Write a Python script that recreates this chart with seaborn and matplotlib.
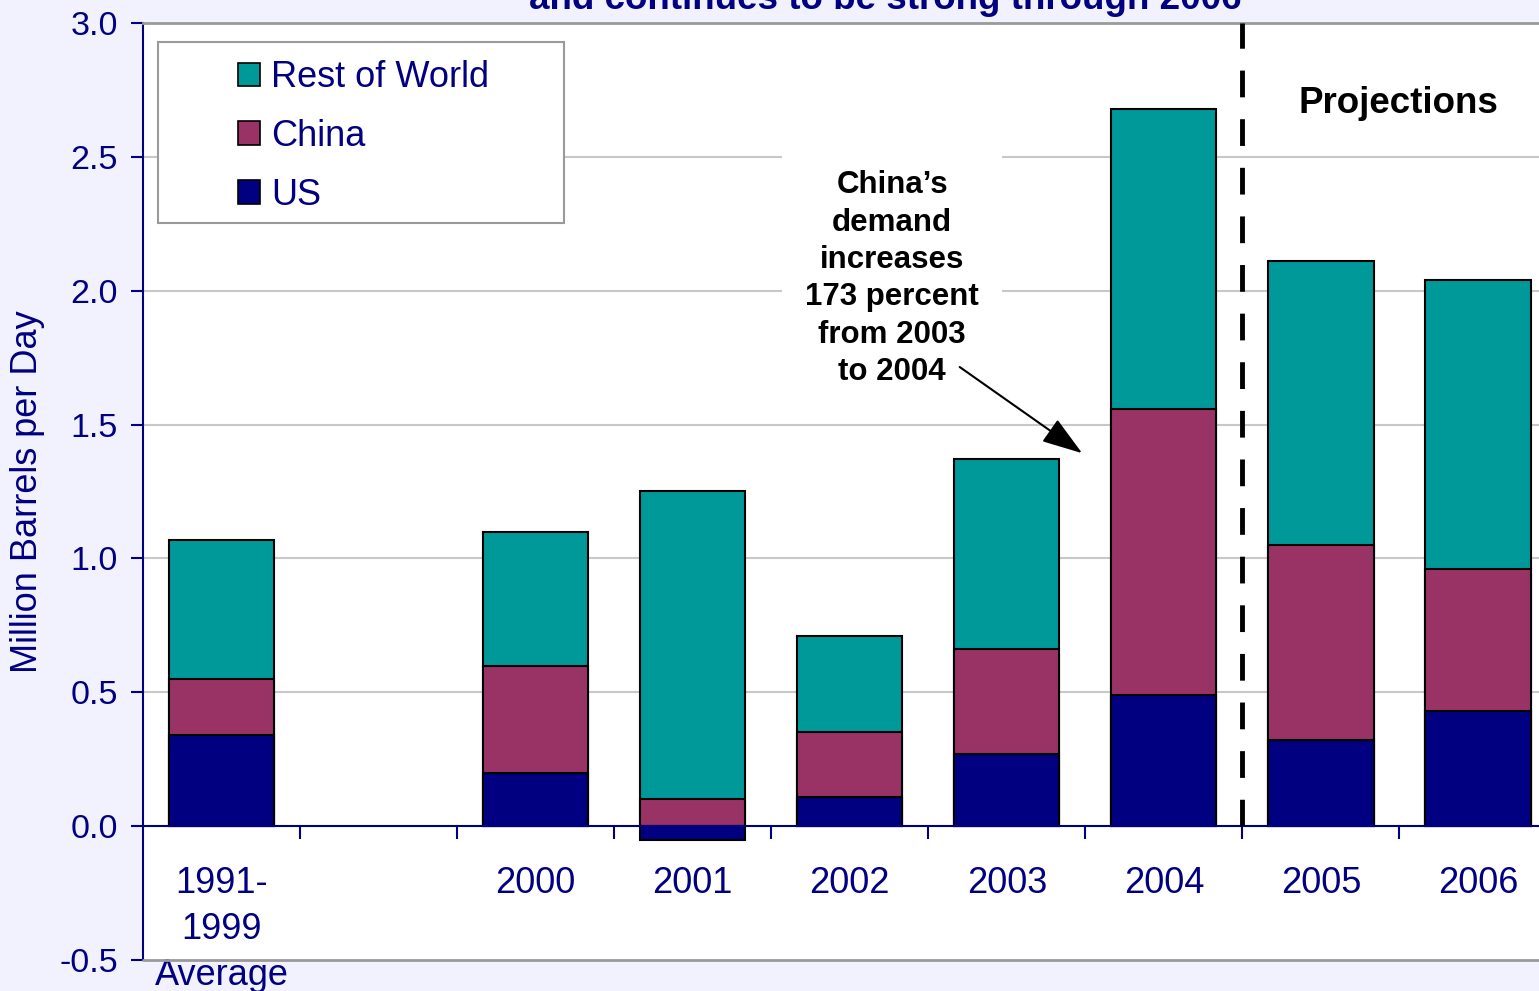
import numpy as np
import pandas as pd
import matplotlib
matplotlib.use("Agg")
import matplotlib.pyplot as plt
from matplotlib.patches import Patch, Rectangle
import seaborn as sns

# Categories (an empty spacer slot sits between the 1990s average and 2000)
categories = ["1991-\n1999\nAverage", " ", "2000", "2001", "2002", "2003", "2004", "2005", "2006"]
bar_categories = ["1991-\n1999\nAverage", "2000", "2001", "2002", "2003", "2004", "2005", "2006"]

# Demand growth components, million barrels per day
us_growth = [0.34, 0.20, -0.05, 0.11, 0.27, 0.49, 0.32, 0.43]
china_growth = [0.21, 0.40, 0.10, 0.24, 0.39, 1.07, 0.73, 0.53]
row_growth = [0.52, 0.50, 1.15, 0.36, 0.71, 1.12, 1.06, 1.08]

y_ticks = [-0.5, 0.0, 0.5, 1.0, 1.5, 2.0, 2.5, 3.0]

NAVY = "#000080"
TEAL = "#009999"
MAROON = "#993366"
BG = "#F2F2FF"
GRID = "#C8C8C8"
FRAME = "#9A9A9A"

sns.set_theme(style="white")
plt.rcParams["font.family"] = ["Liberation Sans", "DejaVu Sans"]

# Stack: China starts at the positive part of US, Rest of World on top of China
us = np.array(us_growth)
china_base = np.clip(us, 0, None)
china_top = china_base + np.array(china_growth)
row_top = china_top + np.array(row_growth)

df = pd.DataFrame({
    "category": bar_categories,
    "us": us,
    "china_top": china_top,
    "row_top": row_top,
})

fig = plt.figure(figsize=(15.39, 9.91), dpi=100, facecolor=BG)
ax = fig.add_axes([143 / 1539, 1 - 960 / 991, 1413.5 / 1539, 937 / 991])
ax.set_facecolor("white")

bar_kw = dict(order=categories, width=0.67, edgecolor="black", linewidth=1.5, ax=ax, zorder=3)
sns.barplot(data=df, x="category", y="row_top", color=TEAL, saturation=1, **bar_kw)
sns.barplot(data=df, x="category", y="china_top", color=MAROON, saturation=1, **bar_kw)
sns.barplot(data=df, x="category", y="us", color=NAVY, saturation=1, **bar_kw)

ax.set_xlim(-0.5, len(categories) - 0.5)
ax.set_ylim(-0.5, 3.0)
ax.set_xlabel("")
ax.set_ylabel("Million Barrels per Day", fontsize=26, color=NAVY, labelpad=10)

# Y axis
ax.set_yticks(y_ticks)
ax.set_yticklabels([f"{v:.1f}" for v in y_ticks], fontsize=24.5, color=NAVY)
ax.tick_params(axis="y", direction="out", length=9, width=1.5, color=NAVY, pad=9, left=True)

# X axis: tick marks between slots, labels at slot centres
ax.set_xticks(np.arange(0.5, len(categories) - 1, 1.0))
ax.set_xticklabels([])
ax.set_xticks(np.arange(len(categories)), labels=categories, minor=True)
ax.tick_params(axis="x", which="major", direction="out", length=9, width=1.5, color=NAVY, bottom=True)
ax.tick_params(axis="x", which="minor", length=0, pad=29, labelsize=26, labelcolor=NAVY)

# Grid lines
for v in [0.5, 1.0, 1.5, 2.0, 2.5]:
    ax.axhline(v, color=GRID, linewidth=1.5, zorder=1)

# Spines
ax.spines["bottom"].set_position(("data", 0))
ax.spines["bottom"].set_color(NAVY)
ax.spines["bottom"].set_linewidth(1.5)
ax.spines["bottom"].set_zorder(4)
ax.spines["left"].set_color(NAVY)
ax.spines["left"].set_linewidth(1.5)
ax.spines["top"].set_color(FRAME)
ax.spines["top"].set_linewidth(2)
ax.spines["right"].set_visible(False)
ax.axhline(-0.5, color=FRAME, linewidth=2, clip_on=False, zorder=4)

# Projection divider
ax.plot([6.5, 6.5], [0, 3.0], color="black", linewidth=3.5, linestyle=(0, (5.5, 4.5)), zorder=5)
ax.text(7.495, 2.70, "Projections", fontsize=26.5, fontweight="bold", color="black",
        ha="center", va="center", zorder=6)

# Callout
ax.text(4.27, 2.045, "China\u2019s\ndemand\nincreases\n173 percent\nfrom 2003\nto 2004",
        fontsize=22.5, fontweight="bold", color="black", ha="center", va="center",
        linespacing=1.32, zorder=6,
        bbox=dict(facecolor="white", edgecolor="none", boxstyle="square,pad=0.75"))
ax.annotate("", xy=(5.48, 1.393), xytext=(4.70, 1.715),
            arrowprops=dict(arrowstyle="-|>,head_length=0.9,head_width=0.3", color="black",
                            lw=1.5, mutation_scale=28, shrinkA=0, shrinkB=0), zorder=6)

# Legend with its own frame
ax.add_patch(Rectangle((0.0106, 0.7866), 0.2872, 0.1932, transform=ax.transAxes,
                       facecolor="white", edgecolor=FRAME, linewidth=1.5, zorder=7))
handles = [Patch(facecolor=TEAL, edgecolor="black", linewidth=1.2, label="Rest of World"),
           Patch(facecolor=MAROON, edgecolor="black", linewidth=1.2, label="China"),
           Patch(facecolor=NAVY, edgecolor="black", linewidth=1.2, label="US")]
leg = ax.legend(handles=handles, loc="upper left", bbox_to_anchor=(0.0672, 0.9605),
                frameon=False, fontsize=26, handlelength=0.62, handleheight=0.62,
                handletextpad=0.3, labelspacing=0.66, borderpad=0, borderaxespad=0)
leg.set_zorder(8)
for t in leg.get_texts():
    t.set_color(NAVY)

# Title line, partly above the top edge
fig.text(0.575, 1 - 9 / 991, "and continues to be strong through 2006", fontsize=26.5,
         fontweight="bold", color=NAVY, ha="center", va="baseline")

# Multi-line category labels need a looser line spacing once the ticks exist
fig.canvas.draw()
for lbl in ax.get_xticklabels(minor=True):
    lbl.set_linespacing(1.4)

fig.savefig("out.png", dpi=100, facecolor=BG)
